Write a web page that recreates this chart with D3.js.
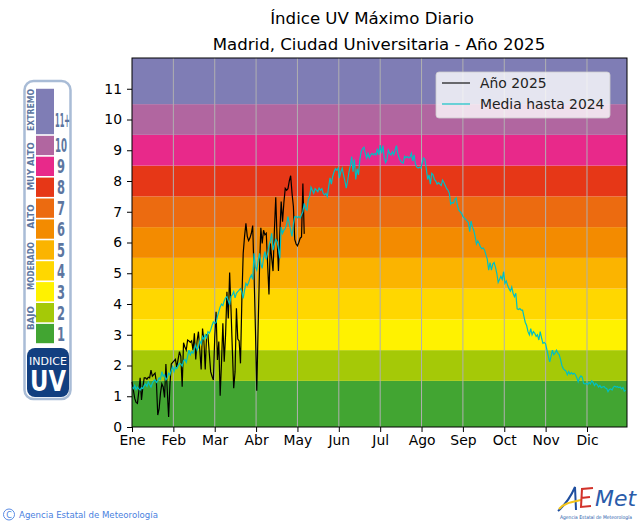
<!DOCTYPE html>
<html>
<head>
<meta charset="utf-8">
<script src="https://cdn.jsdelivr.net/npm/d3@7"></script>
<style>
  html, body { margin: 0; padding: 0; background: #fff; }
  text { font-family: "DejaVu Sans", sans-serif; }
</style>
</head>
<body>
<div id="chart"></div>
<script>
const titleLines = ["Índice UV Máximo Diario", "Madrid, Ciudad Universitaria - Año 2025"];
const monthLabels = ["Ene", "Feb", "Mar", "Abr", "May", "Jun", "Jul", "Ago", "Sep", "Oct", "Nov", "Dic"];
const yTicks = [0, 1, 2, 3, 4, 5, 6, 7, 8, 9, 10, 11];
const bandEdges = [0, 1.5, 2.5, 3.5, 4.5, 5.5, 6.5, 7.5, 8.5, 9.5, 10.5, 12];
const bandColors = ["#42a532", "#a5c907", "#fff200", "#ffd700", "#fbb400", "#f38b00", "#ec6b10", "#e63717", "#e8298a", "#b166a0", "#7f7db5"];
const seriesNames = ["Año 2025", "Media hasta 2024"];

// un valor por dia
const year2025 = [
  1.47, 1.2, 0.93, 0.8, 0.77, 1.15, 1.6, 0.88, 1.3, 1.6, 1.6, 1.55, 1.62, 1.6, 1.85, 1.65, 1.7, 1.75, 1.45, 0.39,
  0.6, 1.1, 1.4, 1.3, 0.96, 2.05, 1.2, 0.33, 1.4, 2.05, 2.1, 2.15, 2.2, 1.95, 2.2, 2.45, 2.3, 1.31, 2.74, 2.6,
  2.5, 2.83, 2.8, 2.75, 2.8, 2.5, 3.05, 2.2, 2.8, 3.1, 2.5, 1.87, 3.2, 2.8, 1.87, 3.0, 3.0, 2.4, 1.8, 1.65,
  1.53, 2.9, 3.75, 2.18, 2.78, 1.02, 2.1, 3.37, 2.12, 3.0, 4.4, 3.53, 5.02, 3.84, 2.5, 1.26, 1.8, 3.86, 2.86, 2.8,
  2.07, 4.13, 5.65, 6.2, 6.62, 6.2, 6.06, 6.15, 6.3, 6.55, 5.0, 3.2, 1.18, 3.26, 5.1, 6.48, 5.97, 6.4, 6.25, 6.3,
  5.3, 4.31, 5.97, 5.5, 5.07, 6.4, 7.47, 6.1, 5.07, 6.3, 7.33, 6.68, 7.3, 7.76, 7.7, 7.75, 8.0, 8.17, 7.6, 7.17,
  6.1, 5.95, 5.89, 6.0, 6.14, 6.18, 7.92, 6.28
];

const meanToDate = [
  1.3, 1.25, 1.35, 1.22, 1.3, 1.24, 1.2, 1.28, 1.25, 1.35, 1.4, 1.32, 1.47, 1.38, 1.3, 1.42, 1.5, 1.53, 1.45, 1.5,
  1.6, 1.55, 1.8, 1.65, 1.7, 1.53, 1.6, 1.75, 1.7, 1.85, 1.96, 1.8, 1.95, 1.9, 2.0, 2.07, 2.05, 1.98, 2.15, 2.2,
  2.1, 2.3, 2.5, 2.35, 2.45, 2.4, 2.55, 2.67, 2.5, 2.6, 2.8, 2.7, 2.94, 2.85, 3.0, 2.9, 3.1, 3.05, 3.15, 3.3,
  3.42, 3.37, 3.4, 3.6, 3.75, 3.9, 4.0, 3.95, 4.1, 4.2, 4.24, 4.1, 3.97, 4.25, 4.3, 4.4, 4.2, 4.35, 4.4, 4.45,
  4.5, 4.4, 4.18, 4.45, 4.67, 4.6, 4.7, 4.85, 4.94, 4.8, 5.65, 5.2, 5.1, 5.4, 5.65, 5.3, 5.16, 5.5, 5.7, 5.45,
  5.65, 5.9, 6.05, 6.3, 5.75, 5.95, 6.1, 6.03, 5.8, 5.48, 6.5, 6.3, 6.4, 6.45, 6.6, 6.84, 6.6, 6.4, 6.2, 6.6,
  6.84, 6.85, 6.8, 6.85, 6.8, 6.9, 7.0, 7.27, 7.1, 7.05, 7.4, 7.5, 7.8, 7.7, 7.6, 7.75, 7.7, 7.65, 7.77, 7.7,
  7.75, 7.6, 7.55, 7.6, 7.49, 7.8, 8.1, 7.9, 8.15, 8.3, 8.4, 8.35, 8.42, 8.1, 8.3, 8.42, 8.2, 8.0, 7.77, 8.0,
  8.3, 8.5, 8.79, 8.3, 8.7, 8.05, 8.4, 8.2, 8.7, 8.95, 9.05, 9.1, 8.9, 8.75, 8.9, 8.75, 8.85, 8.9, 8.85, 8.9,
  8.85, 9.05, 8.85, 9.17, 8.9, 9.15, 8.75, 8.6, 8.7, 9.0, 8.9, 8.85, 8.95, 8.85, 9.0, 9.15, 8.9, 8.75, 8.65, 8.6,
  8.58, 8.8, 8.75, 8.8, 8.75, 8.78, 8.9, 8.65, 8.85, 8.55, 8.45, 8.42, 8.45, 8.42, 8.6, 8.75, 8.7, 8.4, 8.05, 8.2,
  7.9, 8.25, 8.2, 8.05, 8.0, 7.9, 7.95, 7.9, 7.85, 8.03, 7.95, 7.85, 7.75, 7.7, 7.6, 7.25, 7.3, 7.28, 7.4, 7.45,
  7.2, 7.05, 7.0, 6.95, 6.85, 6.8, 6.75, 6.7, 6.65, 6.35, 6.7, 6.5, 6.4, 6.2, 5.95, 6.05, 5.97, 5.85, 5.8, 5.82,
  5.75, 5.6, 5.45, 5.1, 5.35, 5.1, 5.3, 5.35, 5.2, 5.0, 4.7, 4.8, 4.9, 4.8, 5.05, 4.67, 4.75, 4.6, 4.5, 4.42,
  4.55, 4.35, 4.24, 4.35, 3.84, 3.82, 3.85, 3.8, 3.8, 3.6, 3.4, 3.3, 3.1, 3.0, 3.2, 3.0, 3.1, 3.05, 2.95, 3.0,
  2.83, 3.1, 2.9, 2.72, 2.75, 2.7, 2.5, 2.3, 2.12, 2.3, 2.5, 2.35, 2.41, 2.5, 2.4, 2.35, 2.2, 2.0, 1.9, 1.85,
  1.82, 1.7, 1.8, 1.72, 1.77, 1.72, 1.75, 1.7, 1.6, 1.47, 1.6, 1.66, 1.62, 1.42, 1.4, 1.42, 1.38, 1.45, 1.4, 1.5,
  1.45, 1.35, 1.42, 1.38, 1.3, 1.35, 1.28, 1.3, 1.32, 1.27, 1.25, 1.15, 1.22, 1.24, 1.2, 1.3, 1.33, 1.3, 1.31, 1.28,
  1.3, 1.24, 1.28, 1.16, 1.2
];

// leyenda lateral de la imagen AEMET
const uvLevels = [1, 2, 3, 4, 5, 6, 7, 8, 9, 10, 11];
const uvNumbers = ["1", "2", "3", "4", "5", "6", "7", "8", "9", "10", "11+"];
const uvGroups = ["BAJO", "MODERADO", "ALTO", "MUY ALTO", "EXTREMO"];
const uvGroupCentres = [1.74, 4.23, 6.6, 9.0, 11.7];

const width = 640, height = 525;
const margin = { top: 58, right: 13, bottom: 98, left: 132 };
const innerWidth = width - margin.left - margin.right;
const innerHeight = height - margin.top - margin.bottom;

const root = d3.select("#chart").append("svg")
  .attr("width", width).attr("height", height)
  .style("display", "block");

root.selectAll(".title").data(titleLines).enter().append("text")
  .attr("class", "title")
  .attr("x", (d, i) => i === 0 ? 372 : 379)
  .attr("y", (d, i) => i === 0 ? 24 : 50)
  .attr("text-anchor", "middle")
  .attr("font-size", 16.6)
  .attr("fill", "#000")
  .text(d => d);

const svg = root.append("g").attr("transform", `translate(${margin.left},${margin.top})`);

const x = d3.scaleLinear().domain([0, 365]).range([0, innerWidth]);
const y = d3.scaleLinear().domain([0, 12]).range([innerHeight, 0]);
const monthTicks = monthLabels.map((d, i) => i * 30.5);

// Bandas de color
svg.selectAll(".band").data(bandColors).enter().append("rect")
  .attr("class", "band")
  .attr("x", 0)
  .attr("width", innerWidth)
  .attr("y", (d, i) => y(bandEdges[i + 1]))
  .attr("height", (d, i) => y(bandEdges[i]) - y(bandEdges[i + 1]))
  .attr("fill", d => d);

// Rejilla vertical
svg.selectAll(".grid").data(monthTicks.slice(1)).enter().append("line")
  .attr("class", "grid")
  .attr("x1", d => x(d)).attr("x2", d => x(d))
  .attr("y1", 0).attr("y2", innerHeight)
  .attr("stroke", "#b0b0b0").attr("stroke-width", 1);

const line = d3.line().x((d, i) => x(i)).y(d => y(d));

svg.append("path").datum(year2025)
  .attr("d", line)
  .attr("fill", "none").attr("stroke", "#000").attr("stroke-width", 1.2);
svg.append("path").datum(meanToDate)
  .attr("d", line)
  .attr("fill", "none").attr("stroke", "#00bfc4").attr("stroke-width", 1.2);

// Ejes
const xAxis = svg.append("g").attr("transform", `translate(0,${innerHeight})`)
  .call(d3.axisBottom(x).tickValues(monthTicks).tickFormat((d, i) => monthLabels[i]).tickSize(5).tickPadding(3));
const yAxis = svg.append("g")
  .call(d3.axisLeft(y).tickValues(yTicks).tickFormat(d3.format("d")).tickSize(5).tickPadding(5));
[xAxis, yAxis].forEach(a => {
  a.selectAll("text").attr("font-size", 13.9).attr("font-family", '"DejaVu Sans", sans-serif').attr("fill", "#000");
  a.selectAll("line").attr("stroke", "#000");
  a.select(".domain").remove();
});
svg.append("rect")
  .attr("width", innerWidth).attr("height", innerHeight)
  .attr("fill", "none").attr("stroke", "#000").attr("stroke-width", 1);

// Leyenda
const legend = root.append("g").attr("transform", "translate(436,72)");
legend.append("rect")
  .attr("width", 174).attr("height", 46).attr("rx", 3)
  .attr("fill", "#fff").attr("fill-opacity", 0.8)
  .attr("stroke", "#ccc").attr("stroke-opacity", 0.8);
seriesNames.forEach((name, i) => {
  legend.append("line")
    .attr("x1", 6).attr("x2", 34)
    .attr("y1", 11 + i * 21).attr("y2", 11 + i * 21)
    .attr("stroke", i === 0 ? "#000" : "#00bfc4").attr("stroke-width", 1.1);
  legend.append("text")
    .attr("x", 44).attr("y", 16 + i * 21)
    .attr("font-size", 13.9).attr("fill", "#222")
    .text(name);
});

// Escala UV lateral
const uv = root.append("g");
const uvY = d3.scaleLinear().domain([0.5, 10.5]).range([344, 135]);
const uvTop = 12.75;
uv.append("rect")
  .attr("x", 24.5).attr("y", 81).attr("width", 46).attr("height", 318).attr("rx", 9)
  .attr("fill", "#fff").attr("stroke", "#a9bcd6").attr("stroke-width", 2.5);
uv.selectAll(".uvcell").data(uvLevels).enter().append("rect")
  .attr("class", "uvcell")
  .attr("x", 36).attr("width", 18)
  .attr("y", d => uvY(d === 11 ? uvTop : d + 0.5) + 0.8)
  .attr("height", d => uvY(d - 0.5) - uvY(d === 11 ? uvTop : d + 0.5) - 1.6)
  .attr("fill", (d, i) => bandColors[i]);
uv.selectAll(".uvnum").data(uvNumbers).enter().append("text")
  .attr("class", "uvnum")
  .attr("x", (d, i) => i >= 9 ? 55 : 57)
  .attr("y", (d, i) => uvY(i === 10 ? 11.2 : i + 1) + 7)
  .attr("font-family", '"Liberation Sans Narrow", "Liberation Sans", sans-serif')
  .attr("font-size", 19).attr("font-weight", 700)
  .attr("textLength", (d, i) => i === 10 ? 15 : i === 9 ? 12 : 8)
  .attr("lengthAdjust", "spacingAndGlyphs")
  .attr("fill", "#5d76a0")
  .text(d => d);
uv.selectAll(".uvgroup").data(uvGroups).enter().append("text")
  .attr("class", "uvgroup")
  .attr("transform", (d, i) => `translate(34,${uvY(uvGroupCentres[i])}) rotate(-90)`)
  .attr("text-anchor", "middle")
  .attr("font-family", '"Liberation Sans", sans-serif')
  .attr("font-size", 9).attr("font-weight", 700)
  .attr("textLength", d => d.length * 6)
  .attr("lengthAdjust", "spacingAndGlyphs")
  .attr("fill", "#5d76a0")
  .text(d => d);
uv.append("rect")
  .attr("x", 27).attr("y", 348).attr("width", 42).attr("height", 49).attr("rx", 8)
  .attr("fill", "#123f80");
uv.append("text")
  .attr("x", 48).attr("y", 365).attr("text-anchor", "middle")
  .attr("font-family", '"Liberation Sans", sans-serif')
  .attr("font-size", 11).attr("fill", "#fff")
  .text("INDICE");
uv.append("text")
  .attr("x", 48).attr("y", 391).attr("text-anchor", "middle")
  .attr("font-family", '"Liberation Sans", sans-serif')
  .attr("font-size", 28).attr("font-weight", 700).attr("fill", "#fff")
  .attr("textLength", 36).attr("lengthAdjust", "spacingAndGlyphs")
  .text("UV");

// Pie
root.append("circle")
  .attr("cx", 9).attr("cy", 514.5).attr("r", 5.5)
  .attr("fill", "none").attr("stroke", "#4a7fe0").attr("stroke-width", 0.9);
root.append("text")
  .attr("x", 9).attr("y", 517.5).attr("text-anchor", "middle")
  .attr("font-family", '"Liberation Sans", sans-serif')
  .attr("font-size", 8).attr("fill", "#4a7fe0").text("C");
root.append("text")
  .attr("x", 19).attr("y", 518)
  .attr("font-size", 8.6).attr("fill", "#4a7fe0")
  .text("Agencia Estatal de Meteorología");

// Logo AEMet
const logo = root.append("g");
logo.append("path").attr("d", "M558,511 C566,504 572,494 575,487 L576,510")
  .attr("fill", "none").attr("stroke", "#1f4e9e").attr("stroke-width", 2);
logo.append("path").attr("d", "M559,509 C564,503 572,502 581,500")
  .attr("fill", "none").attr("stroke", "#f5c518").attr("stroke-width", 2);
logo.append("path").attr("d", "M593,488 L582,489 L581,507 L591,506 M581,498 L590,497")
  .attr("fill", "none").attr("stroke", "#d2322a").attr("stroke-width", 2);
logo.append("text")
  .attr("x", 595).attr("y", 506)
  .attr("font-family", '"Liberation Serif", serif').attr("font-style", "italic")
  .attr("font-size", 22).attr("fill", "#2a5caa")
  .attr("textLength", 41).attr("lengthAdjust", "spacingAndGlyphs")
  .text("Met");
logo.append("text")
  .attr("x", 560).attr("y", 518.5)
  .attr("font-family", '"Liberation Sans", sans-serif')
  .attr("font-size", 5).attr("fill", "#2a5caa")
  .attr("textLength", 72).attr("lengthAdjust", "spacingAndGlyphs")
  .text("Agencia Estatal de Meteorología");
</script>
</body>
</html>
